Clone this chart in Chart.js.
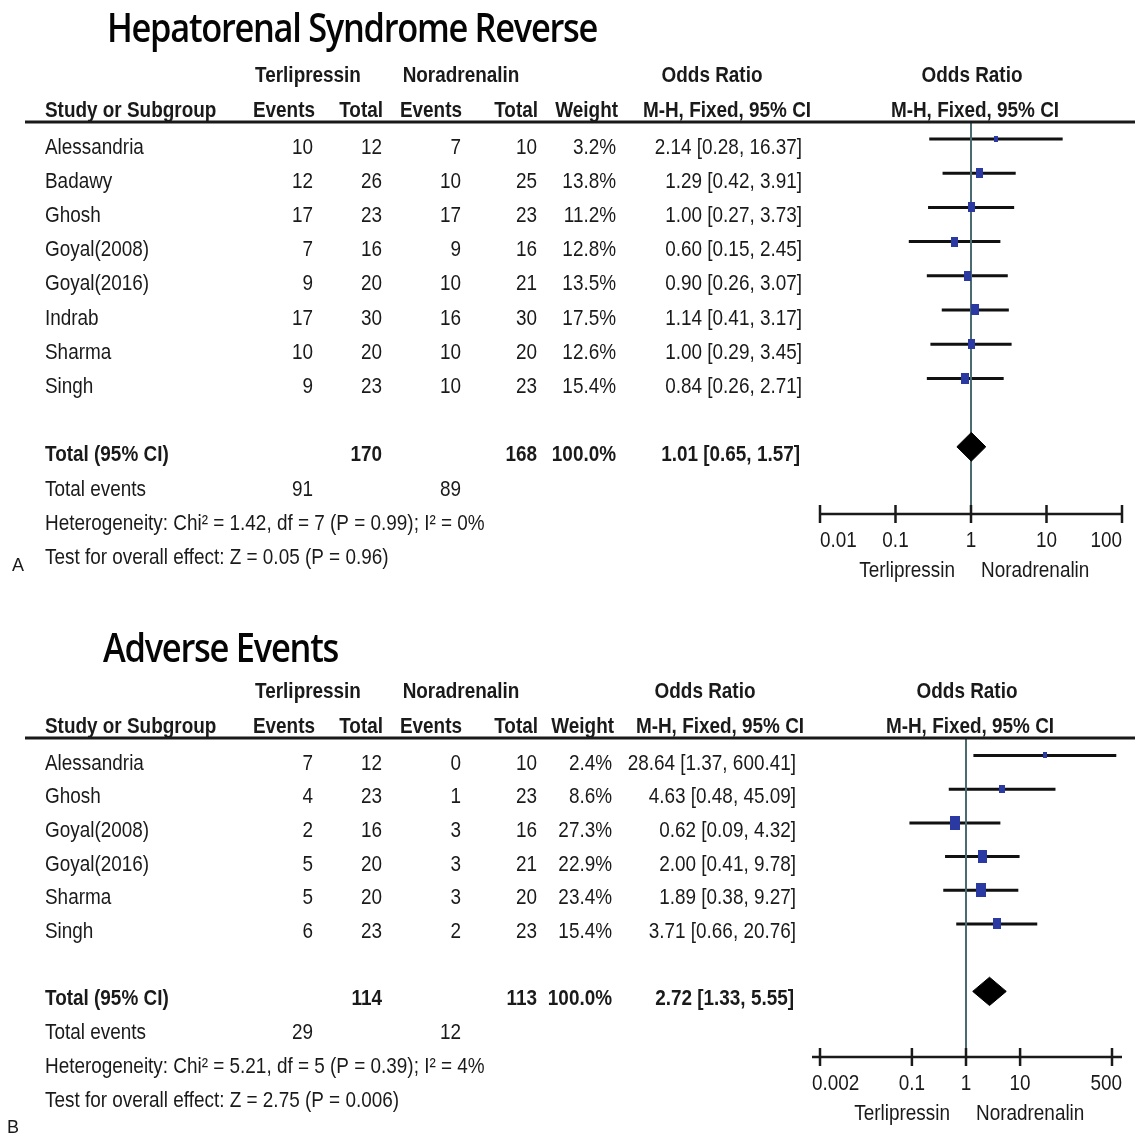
<!DOCTYPE html>
<html>
<head>
<meta charset="utf-8">
<script src="https://cdn.jsdelivr.net/npm/chart.js@4.4.1/dist/chart.umd.min.js"></script>
<style>
  html, body { margin: 0; padding: 0; background: #fff; }
  #wrap { position: relative; width: 1135px; height: 1137px; background: #fff; }
  canvas { position: absolute; left: 0; }
  #cA { top: 0; }
  #cB { top: 600px; }
</style>
</head>
<body>
<div id="wrap">
  <canvas id="cA" width="1135" height="600"></canvas>
  <canvas id="cB" width="1135" height="537"></canvas>
</div>
<script>
// ---- Panel A: hepatorenal syndrome reversal ----
const titleA = 'Hepatorenal Syndrome Reverse';
const studiesA = ['Alessandria', 'Badawy', 'Ghosh', 'Goyal(2008)', 'Goyal(2016)', 'Indrab', 'Sharma', 'Singh'];
const terliEventsA = [10, 12, 17, 7, 9, 17, 10, 9];
const terliTotalA = [12, 26, 23, 16, 20, 30, 20, 23];
const noraEventsA = [7, 10, 17, 9, 10, 16, 10, 10];
const noraTotalA = [10, 25, 23, 16, 21, 30, 20, 23];
const weightA = [3.2, 13.8, 11.2, 12.8, 13.5, 17.5, 12.6, 15.4];
const oddsA = [2.14, 1.29, 1.00, 0.60, 0.90, 1.14, 1.00, 0.84];
const lowerA = [0.28, 0.42, 0.27, 0.15, 0.26, 0.41, 0.29, 0.26];
const upperA = [16.37, 3.91, 3.73, 2.45, 3.07, 3.17, 3.45, 2.71];
const pooledA = [1.01, 0.65, 1.57];          // estimate, lower, upper
const sumTotalsA = [170, 168];               // Terlipressin, Noradrenalin
const sumEventsA = [91, 89];
const heterogeneityA = 'Heterogeneity: Chi² = 1.42, df = 7 (P = 0.99); I² = 0%';
const overallA = 'Test for overall effect: Z = 0.05 (P = 0.96)';
const ticksA = [0.01, 0.1, 1, 10, 100];
const tickLabelsA = ['0.01', '0.1', '1', '10', '100'];

// ---- Panel B: adverse events ----
const titleB = 'Adverse Events';
const studiesB = ['Alessandria', 'Ghosh', 'Goyal(2008)', 'Goyal(2016)', 'Sharma', 'Singh'];
const terliEventsB = [7, 4, 2, 5, 5, 6];
const terliTotalB = [12, 23, 16, 20, 20, 23];
const noraEventsB = [0, 1, 3, 3, 3, 2];
const noraTotalB = [10, 23, 16, 21, 20, 23];
const weightB = [2.4, 8.6, 27.3, 22.9, 23.4, 15.4];
const oddsB = [28.64, 4.63, 0.62, 2.00, 1.89, 3.71];
const lowerB = [1.37, 0.48, 0.09, 0.41, 0.38, 0.66];
const upperB = [600.41, 45.09, 4.32, 9.78, 9.27, 20.76];
const pooledB = [2.72, 1.33, 5.55];
const sumTotalsB = [114, 113];
const sumEventsB = [29, 12];
const heterogeneityB = 'Heterogeneity: Chi² = 5.21, df = 5 (P = 0.39); I² = 4%';
const overallB = 'Test for overall effect: Z = 2.75 (P = 0.006)';
const ticksB = [0.002, 0.1, 1, 10, 500];
const tickLabelsB = ['0.002', '0.1', '1', '10', '500'];

const groupNames = ['Terlipressin', 'Noradrenalin'];

// ---- drawing styles ----
const INK = '#1a1a1a';
const BLUE = '#2a3aa2';
const REF_LINE = '#4a6b70';
const FONT = '"Liberation Sans", Arial, sans-serif';
const NARROW = 0.86;

function text(ctx, s, x, y, align, bold, size, sx) {
  ctx.save();
  ctx.font = (bold ? 'bold ' : '') + (size || 22) + 'px ' + FONT;
  ctx.fillStyle = INK;
  ctx.textBaseline = 'middle';
  ctx.textAlign = align;
  ctx.translate(x, y);
  ctx.scale(sx === undefined ? NARROW : sx, 1);
  ctx.fillText(s, 0, 0);
  ctx.restore();
}

function fitTitle(ctx, s, x, y, width) {
  ctx.save();
  ctx.font = '600 40px "Open Sans", "Noto Sans", sans-serif';
  ctx.letterSpacing = '-1.5px';
  ctx.fillStyle = '#050505';
  ctx.textBaseline = 'middle';
  ctx.textAlign = 'left';
  const k = width / ctx.measureText(s).width;
  ctx.translate(x, y);
  ctx.scale(k, 1);
  ctx.fillText(s, 0, 0);
  ctx.restore();
}

function boxImage(weight) {
  const w = Math.max(4, Math.round(1.8 * Math.sqrt(weight) + 0.8));
  const h = Math.round(w * 1.4);
  const c = document.createElement('canvas');
  c.width = w; c.height = h;
  const g = c.getContext('2d');
  g.fillStyle = BLUE;
  g.fillRect(0, 0, w, h);
  return c;
}

const fmtOR = (o, l, u) => o.toFixed(2) + ' [' + l.toFixed(2) + ', ' + u.toFixed(2) + ']';

function forestPlot(canvasId, d, lay) {
  const n = d.studies.length;
  const totalRow = n + 1;

  // confidence-interval segments, separated by gaps
  const ciSegs = [];
  d.odds.forEach((o, i) => {
    ciSegs.push({ x: d.lower[i], y: i }, { x: d.upper[i], y: i }, { x: null, y: null });
  });
  const boxes = d.odds.map((o, i) => ({ x: o, y: i }));
  const [pe, pl, pu] = d.pooled;
  const hh = 0.42;
  const diamond = [
    { x: pl, y: totalRow }, { x: pe, y: totalRow - hh },
    { x: pu, y: totalRow }, { x: pe, y: totalRow + hh }, { x: pl, y: totalRow }
  ];
  const refLine = [{ x: 1, y: lay.yMin }, { x: 1, y: lay.yMax }];

  const tablePlugin = {
    id: 'forestTable',
    afterDraw(chart) {
      const ctx = chart.ctx;
      const area = chart.chartArea;
      const xs = chart.scales.x, ys = chart.scales.y;
      const x1 = xs.getPixelForValue(1);
      const rowY = r => ys.getPixelForValue(r) + lay.textDy;

      // title and headers
      fitTitle(ctx, d.title, lay.titleX, lay.titleY, lay.titleW);
      const gy = area.top - 46, hy = area.top - 11;
      text(ctx, d.groups[0], 308, gy, 'center', true);
      text(ctx, d.groups[1], 461, gy, 'center', true);
      text(ctx, 'Odds Ratio', lay.orHead, gy, 'center', true);
      text(ctx, 'Odds Ratio', x1 + 1, gy, 'center', true);
      text(ctx, 'Study or Subgroup', 45, hy, 'left', true);
      text(ctx, 'Events', 315, hy, 'right', true);
      text(ctx, 'Total', 383, hy, 'right', true);
      text(ctx, 'Events', 462, hy, 'right', true);
      text(ctx, 'Total', 538, hy, 'right', true);
      text(ctx, 'Weight', lay.wCol + 2, hy, 'right', true);
      text(ctx, 'M-H, Fixed, 95% CI', lay.mhHead, hy, 'center', true);
      text(ctx, 'M-H, Fixed, 95% CI', x1 + 4, hy, 'center', true);

      ctx.save();
      ctx.strokeStyle = '#1a1a1a';
      ctx.lineWidth = 3;
      ctx.beginPath();
      ctx.moveTo(25, area.top);
      ctx.lineTo(chart.width, area.top);
      ctx.stroke();
      ctx.restore();

      // study rows
      d.studies.forEach((s, i) => {
        const y = rowY(i);
        text(ctx, s, 45, y, 'left');
        text(ctx, String(d.tE[i]), 313, y, 'right');
        text(ctx, String(d.tT[i]), 382, y, 'right');
        text(ctx, String(d.nE[i]), 461, y, 'right');
        text(ctx, String(d.nT[i]), 537, y, 'right');
        text(ctx, d.weight[i].toFixed(1) + '%', lay.wCol, y, 'right');
        text(ctx, fmtOR(d.odds[i], d.lower[i], d.upper[i]), lay.orCol, y, 'right');
      });

      // totals
      let y = rowY(totalRow);
      text(ctx, 'Total (95% CI)', 45, y, 'left', true);
      text(ctx, String(d.sumTotals[0]), 382, y, 'right', true);
      text(ctx, String(d.sumTotals[1]), 537, y, 'right', true);
      text(ctx, '100.0%', lay.wCol, y, 'right', true);
      text(ctx, fmtOR(pe, pl, pu), lay.orCol - 2, y, 'right', true);
      y = rowY(totalRow + 1);
      text(ctx, 'Total events', 45, y, 'left');
      text(ctx, String(d.sumEvents[0]), 313, y, 'right');
      text(ctx, String(d.sumEvents[1]), 461, y, 'right');
      text(ctx, d.het, 45, rowY(totalRow + 2), 'left');
      text(ctx, d.overall, 45, rowY(totalRow + 3), 'left');

      // x axis with ticks crossing the line
      const ay = area.bottom;
      ctx.save();
      ctx.strokeStyle = '#1a1a1a';
      ctx.lineWidth = 2.5;
      ctx.beginPath();
      ctx.moveTo(area.left - lay.overhang[0], ay);
      ctx.lineTo(area.right + lay.overhang[1], ay);
      d.ticks.forEach(t => {
        const px = xs.getPixelForValue(t);
        ctx.moveTo(px, ay - 9);
        ctx.lineTo(px, ay + 9);
      });
      ctx.stroke();
      ctx.restore();
      d.ticks.forEach((t, i) => {
        const px = xs.getPixelForValue(t);
        let align = 'center', tx = px;
        if (i === 0) { align = 'left'; tx = area.left - lay.overhang[0]; }
        else if (i === d.ticks.length - 1) { align = 'right'; tx = area.right + lay.overhang[1]; }
        text(ctx, d.tickLabels[i], tx, ay + 27, align);
      });
      text(ctx, d.groups[0], x1 - 16, ay + 57, 'right');
      text(ctx, d.groups[1], x1 + 10, ay + 57, 'left');

      // panel letter
      text(ctx, d.letter, lay.labelX, lay.labelY, 'left', false, 18, 1);
    }
  };

  return new Chart(document.getElementById(canvasId), {
    type: 'scatter',
    data: {
      datasets: [
        { type: 'scatter', data: boxes, pointStyle: d.weight.map(boxImage),
          pointRadius: 5, order: 0, clip: false },
        { type: 'line', data: diamond, showLine: true, fill: 'shape',
          backgroundColor: '#000', borderColor: '#000', borderWidth: 1,
          pointRadius: 0, order: 1, clip: false },
        { type: 'line', data: refLine, showLine: true, borderColor: REF_LINE,
          borderWidth: 2, pointRadius: 0, order: 2, clip: false },
        { type: 'line', data: ciSegs, showLine: true, spanGaps: false,
          borderColor: '#111', borderWidth: 3, pointRadius: 0, order: 3, clip: false }
      ]
    },
    options: {
      responsive: false,
      animation: false,
      events: [],
      layout: { padding: lay.pad },
      plugins: { legend: { display: false }, tooltip: { enabled: false } },
      scales: {
        x: { type: 'logarithmic', min: d.xMin, max: d.xMax, display: false },
        y: { type: 'linear', reverse: true, min: lay.yMin, max: lay.yMax, display: false }
      }
    },
    plugins: [tablePlugin]
  });
}

forestPlot('cA', {
  title: titleA, letter: 'A', groups: groupNames, studies: studiesA,
  tE: terliEventsA, tT: terliTotalA, nE: noraEventsA, nT: noraTotalA,
  weight: weightA, odds: oddsA, lower: lowerA, upper: upperA, pooled: pooledA,
  sumTotals: sumTotalsA, sumEvents: sumEventsA, het: heterogeneityA, overall: overallA,
  ticks: ticksA, tickLabels: tickLabelsA, xMin: ticksA[0], xMax: ticksA[ticksA.length - 1]
}, {
  pad: { left: 820, right: 13, top: 122, bottom: 86 },
  yMin: -0.497, yMax: 10.965, textDy: 8.5,
  titleX: 107, titleY: 31, titleW: 490,
  wCol: 616, orCol: 802, orHead: 712, mhHead: 727,
  overhang: [0, 0], labelX: 12, labelY: 566
});

forestPlot('cB', {
  title: titleB, letter: 'B', groups: groupNames, studies: studiesB,
  tE: terliEventsB, tT: terliTotalB, nE: noraEventsB, nT: noraTotalB,
  weight: weightB, odds: oddsB, lower: lowerB, upper: upperB, pooled: pooledB,
  sumTotals: sumTotalsB, sumEvents: sumEventsB, het: heterogeneityB, overall: overallB,
  ticks: ticksB, tickLabels: tickLabelsB, xMin: ticksB[0], xMax: ticksB[ticksB.length - 1]
}, {
  pad: { left: 820, right: 23, top: 138, bottom: 80 },
  yMin: -0.519, yMax: 8.947, textDy: 8,
  titleX: 103, titleY: 51, titleW: 235,
  wCol: 612, orCol: 796, orHead: 705, mhHead: 720,
  overhang: [8, 10], labelX: 7, labelY: 528
});
</script>
</body>
</html>
